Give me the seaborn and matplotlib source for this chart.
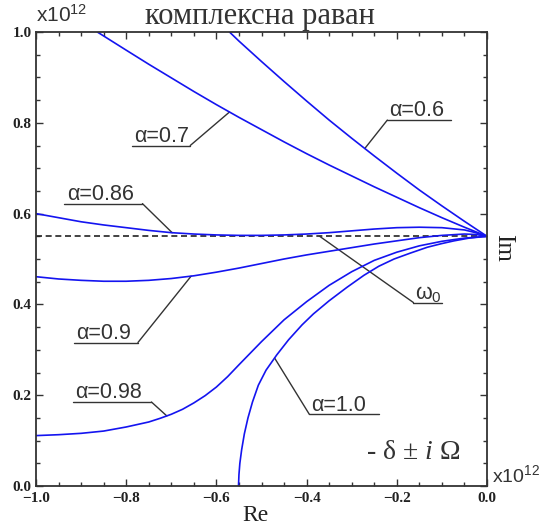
import numpy as np
import pandas as pd
import matplotlib
matplotlib.use("Agg")
import matplotlib.pyplot as plt
import seaborn as sns
from matplotlib.ticker import MultipleLocator, FuncFormatter

sns.set_theme(style="ticks")
plt.rcParams["font.family"] = ["Liberation Serif", "DejaVu Serif"]
plt.rcParams["mathtext.fontset"] = "custom"
plt.rcParams["mathtext.rm"] = "Liberation Serif"
plt.rcParams["mathtext.it"] = "Liberation Serif:italic"
plt.rcParams["mathtext.sf"] = "Liberation Sans"

# Root loci -delta +/- i*Omega in the complex plane (units of 1e12)
omega0 = 0.55

re_a06 = [-0.571, -0.55, -0.50, -0.45, -0.40, -0.35, -0.30, -0.25, -0.20,
          -0.15, -0.10, -0.05, 0.0]
im_a06 = [1.000, 0.980, 0.935, 0.891, 0.848, 0.806, 0.766, 0.727, 0.689,
          0.652, 0.617, 0.583, 0.550]

re_a07 = [-0.864, -0.80, -0.75, -0.70, -0.65, -0.60, -0.55, -0.50, -0.45,
          -0.40, -0.35, -0.30, -0.25, -0.20, -0.15, -0.10, -0.05, 0.0]
im_a07 = [1.000, 0.960, 0.929, 0.899, 0.869, 0.840, 0.812, 0.785, 0.758,
          0.732, 0.707, 0.683, 0.659, 0.636, 0.613, 0.591, 0.570, 0.550]

re_a086 = [-1.0, -0.95, -0.90, -0.85, -0.80, -0.75, -0.70, -0.65, -0.60,
           -0.55, -0.50, -0.45, -0.40, -0.35, -0.30, -0.25, -0.20, -0.15,
           -0.10, -0.05, -0.025, 0.0]
im_a086 = [0.600, 0.591, 0.582, 0.575, 0.569, 0.563, 0.558, 0.555, 0.553,
           0.552, 0.552, 0.553, 0.555, 0.558, 0.562, 0.566, 0.569, 0.570,
           0.569, 0.564, 0.558, 0.550]

re_a09 = [-1.0, -0.95, -0.90, -0.85, -0.80, -0.75, -0.70, -0.65, -0.60,
          -0.55, -0.50, -0.45, -0.40, -0.35, -0.30, -0.25, -0.20, -0.15,
          -0.10, -0.05, -0.025, 0.0]
im_a09 = [0.461, 0.456, 0.453, 0.451, 0.451, 0.453, 0.457, 0.463, 0.471,
          0.480, 0.490, 0.500, 0.509, 0.517, 0.525, 0.533, 0.540, 0.547,
          0.552, 0.555, 0.554, 0.550]

re_a098 = [-1.0, -0.95, -0.90, -0.85, -0.80, -0.75, -0.725, -0.70, -0.675,
           -0.65, -0.625, -0.60, -0.575, -0.55, -0.50, -0.45, -0.40, -0.35,
           -0.30, -0.25, -0.20, -0.15, -0.10, -0.05, 0.0]
im_a098 = [0.111, 0.113, 0.116, 0.121, 0.130, 0.141, 0.149, 0.158, 0.169,
           0.183, 0.199, 0.218, 0.241, 0.267, 0.318, 0.366, 0.406, 0.442,
           0.472, 0.497, 0.515, 0.529, 0.539, 0.546, 0.550]

re_a10 = [-0.551, -0.550, -0.548, -0.544, -0.538, -0.530, -0.520, -0.507,
          -0.490, -0.466, -0.440, -0.410, -0.385, -0.350, -0.310, -0.273,
          -0.240, -0.206, -0.170, -0.132, -0.100, -0.073, -0.040, 0.0]
im_a10 = [0.000, 0.025, 0.050, 0.080, 0.115, 0.150, 0.185, 0.222,
          0.255, 0.289, 0.322, 0.355, 0.379, 0.408, 0.438, 0.464,
          0.484, 0.500, 0.513, 0.526, 0.534, 0.540, 0.546, 0.550]

alphas = ["0.6", "0.7", "0.86", "0.9", "0.98", "1.0"]
re_curves = [re_a06, re_a07, re_a086, re_a09, re_a098, re_a10]
im_curves = [im_a06, im_a07, im_a086, im_a09, im_a098, im_a10]

x_ticks = [-1.0, -0.8, -0.6, -0.4, -0.2, 0.0]
y_ticks = [0.0, 0.2, 0.4, 0.6, 0.8, 1.0]

df = pd.concat(
    [pd.DataFrame({"re": r, "im": i, "alpha": a})
     for a, r, i in zip(alphas, re_curves, im_curves)],
    ignore_index=True,
)

fig = plt.figure(figsize=(5.44, 5.28), dpi=100)
fig.patch.set_facecolor("white")
ax = fig.add_axes([36 / 544, 1 - 486 / 528, 451 / 544, 454 / 528])
ax.set_facecolor("white")

sns.lineplot(data=df, x="re", y="im", units="alpha", estimator=None,
             sort=False, color="#1414f0", lw=1.2, legend=False, ax=ax)
ax.axhline(omega0, color="#222222", lw=1.2, ls=(0, (3.6, 2.2)), zorder=1)

ax.set_xlim(-1.0, 0.0)
ax.set_ylim(0.0, 1.0)
ax.set_xlabel("")
ax.set_ylabel("")

ax.xaxis.set_minor_locator(MultipleLocator(0.05))
ax.yaxis.set_minor_locator(MultipleLocator(0.05))
ax.set_xticks(x_ticks)
ax.set_yticks(y_ticks)


def fmt(v, _):
    s = f"{v:.1f}"
    if s == "-0.0":
        s = "0.0"
    return s.replace("-", "\u2212")


ax.xaxis.set_major_formatter(FuncFormatter(fmt))
ax.yaxis.set_major_formatter(FuncFormatter(fmt))
ax.tick_params(which="both", direction="in", top=True, right=True,
               color="#333333", width=1.0)
ax.tick_params(which="major", length=5)
ax.tick_params(which="minor", length=3)
ax.tick_params(axis="x", pad=4)
ax.tick_params(axis="y", pad=3)
for lab in ax.get_xticklabels() + ax.get_yticklabels():
    lab.set_fontweight("bold")
    lab.set_fontsize(11)
    lab.set_color("#222222")
for sp in ax.spines.values():
    sp.set_color("#333333")
    sp.set_linewidth(1.3)

# Callouts: label, underline start, underline end, underline height,
# curve the leader points at, x of the point on that curve
callouts = [
    ("\u03b1=0.6", -0.221, -0.079, 0.806, 0, -0.271),
    ("\u03b1=0.7", -0.788, -0.658, 0.750, 1, -0.571),
    ("\u03b1=0.86", -0.937, -0.764, 0.622, 2, -0.698),
    ("\u03b1=0.9", -0.915, -0.774, 0.316, 3, -0.656),
    ("\u03b1=0.98", -0.918, -0.744, 0.185, 4, -0.710),
    ("\u03b1=1.0", -0.394, -0.240, 0.158, 5, -0.471),
]
lead_kw = dict(color="#333333", lw=1.0, zorder=1)
sans = ["Liberation Sans", "DejaVu Sans"]
for text, x1, x2, yu, k, xt in callouts:
    yt = np.interp(xt, re_curves[k], im_curves[k])
    # leader leaves from the underline end nearest the curve
    xs = x2 if xt > x2 else x1
    ax.plot([x1, x2], [yu, yu], **lead_kw)
    ax.plot([xs, xt], [yu, yt], **lead_kw)
    ax.text(x1 + 0.005, yu + 0.008, text, family=sans,
            fontsize=15.5, color="#333333", ha="left", va="baseline")

# omega_0 callout on the dashed line
ax.plot([-0.163, -0.099], [0.404, 0.404], **lead_kw)
ax.plot([-0.163, -0.371], [0.404, omega0], **lead_kw)
ax.text(-0.160, 0.412, r"$\mathsf{\omega_0}$", fontsize=15.5, color="#333333",
        ha="left", va="baseline")

ax.text(0.835, 0.073, r"- δ ± $\mathit{i}$ Ω",
        transform=ax.transAxes, fontsize=20, color="#333333",
        ha="center", va="center")

ax.text(0.496, 1.035, "комплексна раван", transform=ax.transAxes,
        fontsize=22, color="#333333", ha="center", va="center")
ax.text(0.0, 1.012, r"$\mathsf{x10^{12}}$", transform=ax.transAxes,
        fontsize=15, color="#333333", ha="left", va="bottom")
ax.text(1.012, 0.0, r"$\mathsf{x10^{12}}$", transform=ax.transAxes,
        fontsize=14, color="#333333", ha="left", va="bottom")
ax.text(0.487, -0.065, "Re", transform=ax.transAxes, fontsize=17,
        color="#222222", ha="center", va="center")
ax.text(1.035, 0.524, "Im", transform=ax.transAxes, fontsize=18,
        color="#222222", ha="center", va="center", rotation=-90)

fig.savefig("out.png", dpi=100, facecolor="white")
